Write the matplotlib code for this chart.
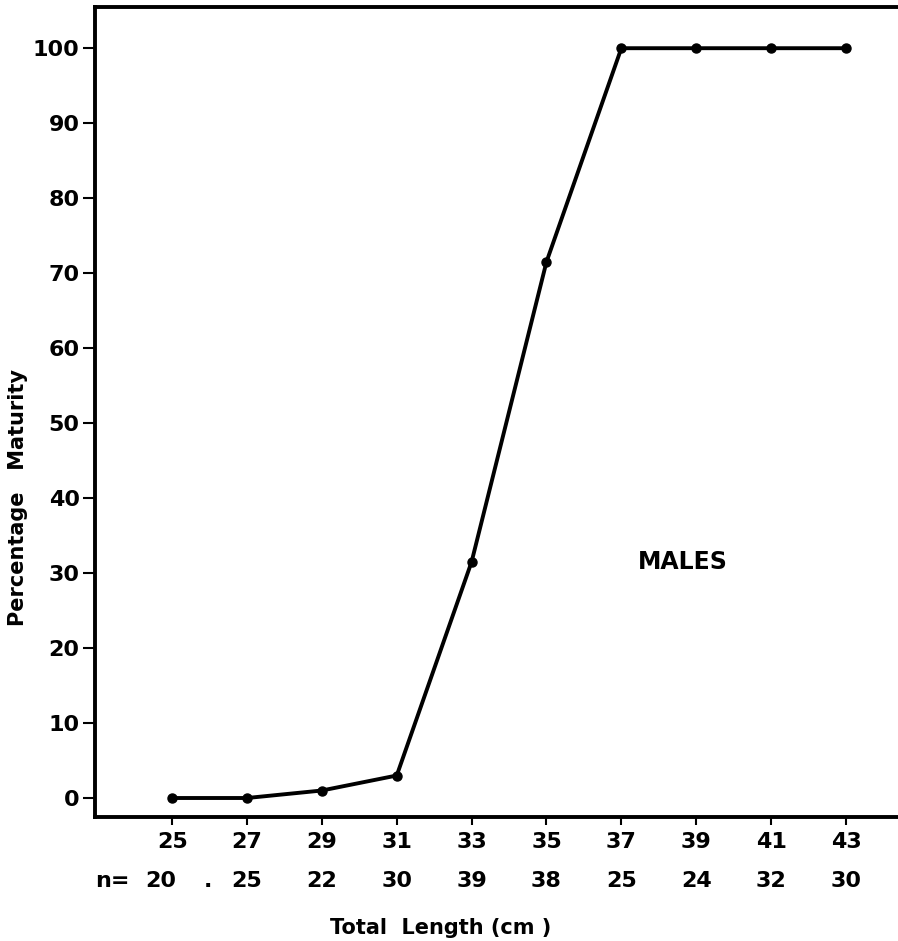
"""
Percentage maturity of males by total length
"""

import matplotlib.pyplot as plt
from matplotlib.transforms import blended_transform_factory

# Data
lengths = [25, 27, 29, 31, 33, 35, 37, 39, 41, 43]
maturity = [0, 0, 1, 3, 31.5, 71.5, 100, 100, 100, 100]
sample_sizes = [20, 25, 22, 30, 39, 38, 25, 24, 32, 30]
y_ticks = list(range(0, 101, 10))

FONT = {"family": "DejaVu Sans", "weight": "heavy"}

fig = plt.figure(figsize=(8.98, 9.41), dpi=100)
ax = fig.add_axes([0.1058, 0.1318, 0.8942, 0.8608])

ax.plot(lengths, maturity, color='k', lw=2.8, marker='o', ms=6.5,
        solid_joinstyle='round', clip_on=False, zorder=3)

ax.set_xlim(22.94, 44.39)
ax.set_ylim(-2.53, 105.5)

# Spines: left, bottom and top only
for side in ['left', 'bottom', 'top']:
    ax.spines[side].set_linewidth(2.8)
ax.spines['right'].set_visible(False)

ax.set_xticks(lengths)
ax.set_xticklabels([str(v) for v in lengths], fontdict=FONT, fontsize=16)
ax.set_yticks(y_ticks)
ax.set_yticklabels([str(v) for v in y_ticks], fontdict=FONT, fontsize=16)
ax.tick_params(axis='y', direction='out', length=9, width=1.5, pad=2)
ax.tick_params(axis='x', direction='out', length=6, width=1.5, pad=5)

# Sample size row under the tick labels (first value sits left of its tick)
trans = blended_transform_factory(ax.transData, ax.transAxes)
n_pos = list(lengths)
n_pos[0] = 24.7
for x, n in zip(n_pos, sample_sizes):
    ax.text(x, -0.079, str(n), transform=trans, ha='center', va='center',
            fontsize=16, **FONT)
ax.text(22.94, -0.079, 'n=', transform=trans, ha='left', va='center',
        fontsize=16, **FONT)
ax.text(25.95, -0.079, '.', transform=trans, ha='center', va='center',
        fontsize=16, **FONT)

ax.text(38.65, 31.5, 'MALES', ha='center', va='center', fontsize=17,
        **FONT)

fig.text(441 / 898, 1 - 928 / 941, 'Total  Length (cm )', ha='center',
         va='center', fontsize=15, **FONT)
fig.text(18 / 898, 1 - 497 / 941, 'Percentage   Maturity', ha='center',
         va='center', rotation=90, fontsize=15, **FONT)

fig.savefig('out.png', dpi=100)
